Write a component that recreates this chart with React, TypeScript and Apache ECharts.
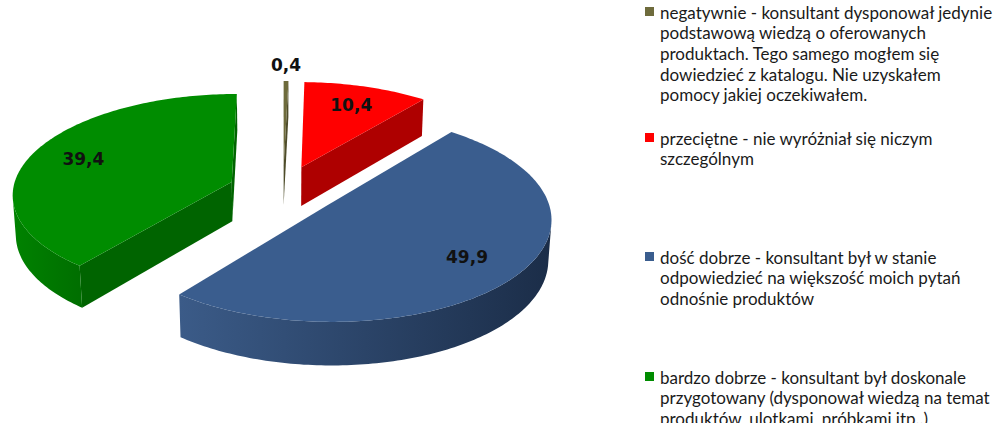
import React, { useEffect, useRef } from "react";
import * as echarts from "echarts";

const categories = [
  "negatywnie - konsultant dysponował jedynie\npodstawową wiedzą o oferowanych\nproduktach. Tego samego mogłem się\ndowiedzieć z katalogu. Nie uzyskałem\npomocy jakiej oczekiwałem.",
  "przeciętne - nie wyróżniał się niczym\nszczególnym",
  "dość dobrze - konsultant był w stanie\nodpowiedzieć na większość moich pytań\nodnośnie produktów",
  "bardzo dobrze - konsultant był doskonale\nprzygotowany (dysponował wiedzą na temat\nproduktów, ulotkami, próbkami itp..)",
];
const values = [0.4, 10.4, 49.9, 39.4];
const valueLabels = ["0,4", "10,4", "49,9", "39,4"];

const topColors = ["#6E6B3C", "#FF0000", "#3A5D8E", "#008C00"];
const faceColors = ["#4E4C2A", "#AE0000", "#22395A", "#006400"];
const wallLight = ["#5E5B32", "#C00000", "#3B5B88", "#008200"];
const wallDark = ["#3E3C20", "#900000", "#1B2D48", "#006E00"];

// projection settings (layout only)
const CX = 283;
const CY = 190;
const SCALE = 219;
const TILT = (27 * Math.PI) / 180;
const CAM = 8;
const EXPLODE = 0.25;
const THICK = 0.205;
const LABEL_F = 0.75;
const legendTops = [12, 138, 257, 377];
const LINE_H = 20.7;

export default function App() {
  const ref = useRef<HTMLDivElement>(null);
  useEffect(() => {
    document.body.style.margin = "0";
    const chart = echarts.init(ref.current!, null, { renderer: "svg" });
    const total = values.reduce((a, b) => a + b, 0);
    const cum: number[] = [];
    let acc = 0;
    values.forEach((v) => {
      cum.push(acc);
      acc += v;
    });
    const st = Math.sin(TILT);
    const ct = Math.cos(TILT);
    const proj = (X: number, Y: number, Z: number) => {
      const yv = Y * ct + Z * st;
      const zv = Z * ct - Y * st;
      const p = 1 / (1 + zv / CAM);
      return [CX + SCALE * X * p, CY - SCALE * yv * p];
    };
    const camZ = -CAM * ct;

    const renderItem = (params: any, api: any) => {
      const i = params.dataIndex;
      const v = api.value(1);
      const s = (cum[i] / total) * Math.PI * 2;
      const e = s + (v / total) * Math.PI * 2;
      const m = (s + e) / 2;
      const ax = EXPLODE * Math.sin(m);
      const az = EXPLODE * Math.cos(m);
      const rimP = (a: number, Y = 0) => proj(ax + Math.sin(a), Y, az + Math.cos(a));
      const apexP = (Y = 0) => proj(ax, Y, az);
      const n = Math.max(2, Math.ceil(((e - s) * 180) / Math.PI));
      const angs: number[] = [];
      for (let j = 0; j <= n; j++) angs.push(s + ((e - s) * j) / n);
      const children: any[] = [];

      const faceAt = (a: number) => ({
        type: "polygon",
        shape: { points: [apexP(), rimP(a), rimP(a, -THICK), apexP(-THICK)] },
        style: { fill: faceColors[i] },
      });
      const startVis = ax * Math.cos(s) - (CAM * ct + az) * Math.sin(s) > 0;
      const endVis = -ax * Math.cos(e) + (CAM * ct + az) * Math.sin(e) > 0;
      if (startVis) children.push(faceAt(s));
      if (endVis) children.push(faceAt(e));

      const visible = (a: number) => {
        const X = ax + Math.sin(a);
        const Z = az + Math.cos(a);
        return -X * Math.sin(a) + (camZ - Z) * Math.cos(a) > 0;
      };
      let run: number[] = [];
      const flush = () => {
        if (run.length >= 2) {
          const top = run.map((a) => rimP(a));
          const bot = run.map((a) => rimP(a, -THICK)).reverse();
          children.push({
            type: "polygon",
            shape: { points: top.concat(bot) },
            style: {
              fill: new echarts.graphic.LinearGradient(0, 0, 1, 0, [
                { offset: 0, color: wallLight[i] },
                { offset: 1, color: wallDark[i] },
              ]),
            },
          });
        }
        run = [];
      };
      angs.forEach((a) => {
        if (visible(a)) run.push(a);
        else flush();
      });
      flush();

      children.push({
        type: "polygon",
        shape: { points: [apexP()].concat(angs.map((a) => rimP(a))) },
        style: { fill: topColors[i] },
      });

      let lp: number[];
      if (v / total < 0.03) {
        const r = rimP(m);
        lp = [r[0], r[1] - 16];
      } else {
        lp = proj(ax + LABEL_F * Math.sin(m), 0, az + LABEL_F * Math.cos(m));
      }
      children.push({
        type: "text",
        style: {
          text: valueLabels[i],
          x: lp[0],
          y: lp[1],
          fill: "#111",
          fontSize: 17,
          fontWeight: "bold",
          fontFamily: "DejaVu Sans",
          textAlign: "center",
          textVerticalAlign: "middle",
          align: "center",
          verticalAlign: "middle",
        },
      });
      return { type: "group", children };
    };

    const graphic: any[] = [];
    categories.forEach((c, i) => {
      graphic.push({
        type: "rect",
        shape: { x: 645, y: legendTops[i] - 5, width: 9, height: 9 },
        style: { fill: topColors[i] },
      });
      graphic.push({
        type: "text",
        style: {
          text: c,
          x: 660,
          y: legendTops[i] - LINE_H / 2,
          fill: "#1a1a1a",
          fontSize: 17,
          fontFamily: "Lato",
          lineHeight: LINE_H,
          textVerticalAlign: "top",
          verticalAlign: "top",
        },
      });
    });

    chart.setOption({
      animation: false,
      backgroundColor: "#fff",
      series: [
        {
          type: "custom",
          coordinateSystem: "none",
          renderItem,
          data: values.map((v, i) => [i, v]),
        },
      ],
      graphic,
    });
    return () => chart.dispose();
  }, []);
  return <div ref={ref} style={{ width: 1000, height: 423 }} />;
}
